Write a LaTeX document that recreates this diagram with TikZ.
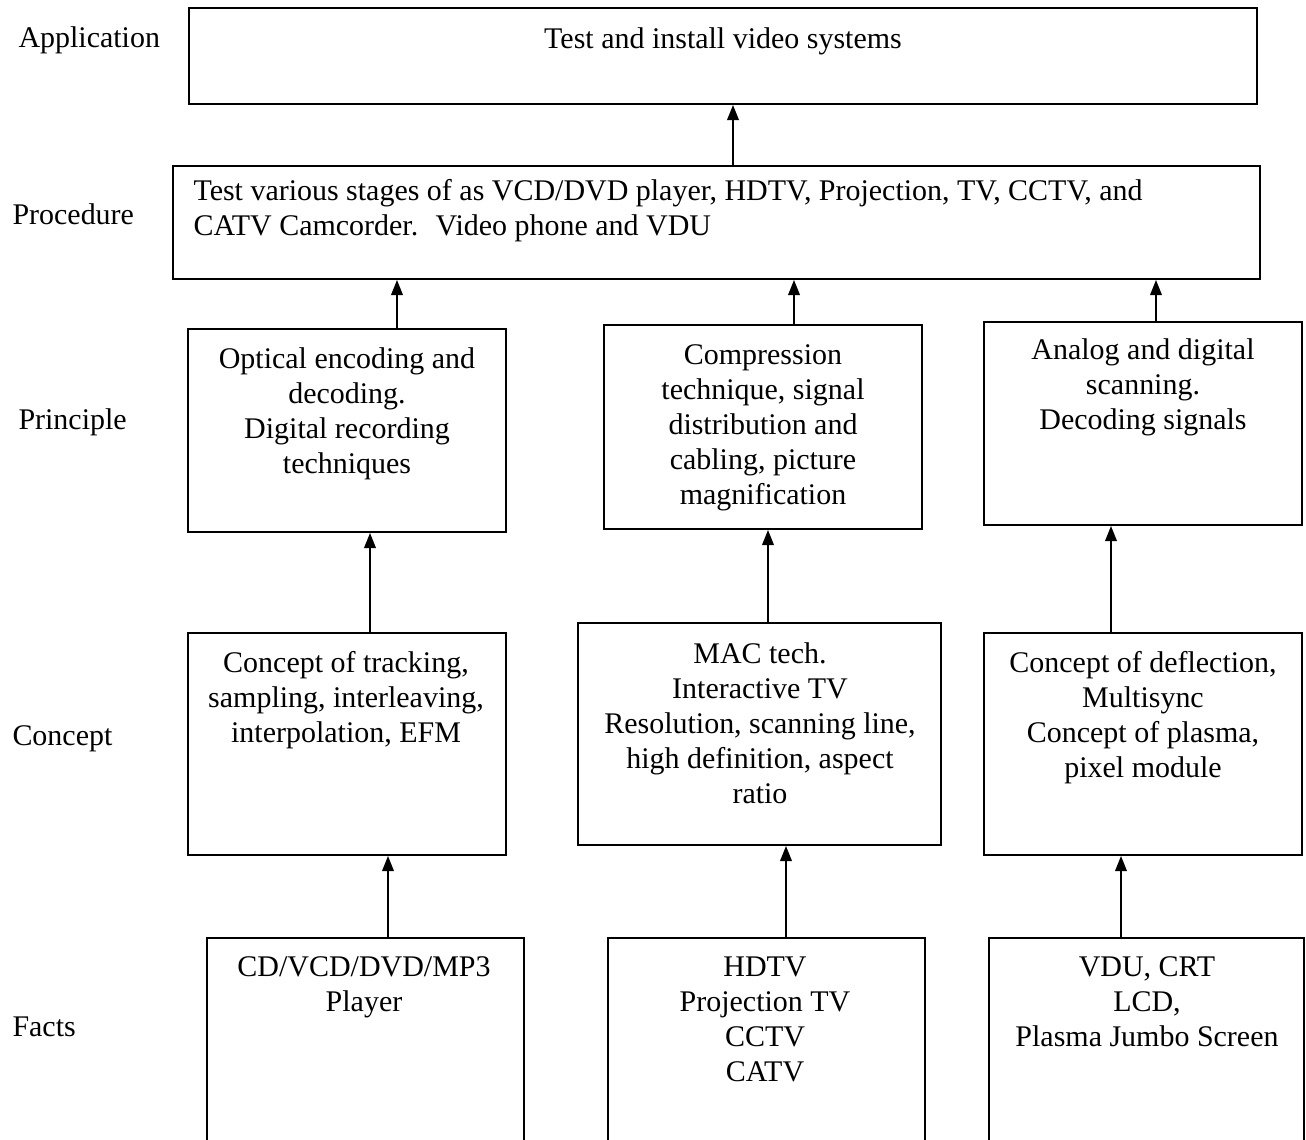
\documentclass[tikz,border=0pt]{standalone}
\usepackage{fontspec}
\setmainfont{Liberation Serif}
\usetikzlibrary{arrows.meta,fit}
\tikzset{
  box/.style={draw,line width=0.75pt,inner sep=0pt,rectangle},
  txt/.style={anchor=north,inner sep=0pt,align=center,font=\fontsize{11.8}{13.8}\selectfont},
  lbl/.style={anchor=base west,inner sep=0pt,font=\fontsize{11.8}{13.8}\selectfont},
  arr/.style={line width=0.75pt,-{Triangle[length=6pt,width=4.6pt]}}
}
\begin{document}
\begin{tikzpicture}[x=0.3937pt,y=-0.3937pt]
\clip (0,0) rectangle (1306,1139);
% boxes
\node[box,fit={(189,8) (1257,104)}] (app) {};
\node[box,fit={(173,166) (1260,279)}] (proc) {};
\node[box,fit={(188,329) (506,532)}] (p1) {};
\node[box,fit={(604,325) (922,529)}] (p2) {};
\node[box,fit={(984,322) (1302,525)}] (p3) {};
\node[box,fit={(188,633) (506,855)}] (c1) {};
\node[box,fit={(578,623) (941,845)}] (c2) {};
\node[box,fit={(984,633) (1302,855)}] (c3) {};
\node[box,fit={(207,938) (524,1170)}] (f1) {};
\node[box,fit={(608,938) (925,1170)}] (f2) {};
\node[box,fit={(989,938) (1304,1170)}] (f3) {};
% texts (north = first baseline - 24.5)
\node[txt] (tapp) at (723,23) {\strut Test and install video systems};
\node[txt,anchor=north west,align=left] (tproc) at (193,175) {\strut Test various stages of as VCD/DVD player, HDTV, Projection, TV, CCTV, and\\CATV Camcorder.~ Video phone and VDU};
\node[txt] (tp1) at (347,343) {\strut Optical encoding and\\decoding.\\Digital recording\\techniques};
\node[txt] (tp2) at (763,339) {\strut Compression\\technique, signal\\distribution and\\cabling, picture\\magnification};
\node[txt] (tp3) at (1143,334) {\strut Analog and digital\\scanning.\\Decoding signals};
\node[txt] (tc1) at (346,647) {\strut Concept of tracking,\\sampling, interleaving,\\interpolation, EFM};
\node[txt] (tc2) at (760,638) {\strut MAC tech.\\Interactive TV\\Resolution, scanning line,\\high definition, aspect\\ratio};
\node[txt] (tc3) at (1143,647) {\strut Concept of deflection,\\Multisync\\Concept of plasma,\\pixel module};
\node[txt] (tf1) at (364,951) {\strut CD/VCD/DVD/MP3\\Player};
\node[txt] (tf2) at (765,951) {\strut HDTV\\Projection TV\\CCTV\\CATV};
\node[txt] (tf3) at (1147,951) {\strut VDU, CRT\\LCD,\\Plasma Jumbo Screen};
% side labels
\node[lbl] (lapp) at (18,47) {Application};
\node[lbl] (lproc) at (12,224) {Procedure};
\node[lbl] (lprin) at (18,429) {Principle};
\node[lbl] (lconc) at (12,745) {Concept};
\node[lbl] (lfact) at (12,1036) {Facts};
% arrow columns
\coordinate (xa) at (733,0);
\coordinate (xp1) at (397,0);
\coordinate (xp2) at (794,0);
\coordinate (xp3) at (1156,0);
\coordinate (xc1) at (370,0);
\coordinate (xc2) at (768,0);
\coordinate (xc3) at (1111,0);
\coordinate (xf1) at (388,0);
\coordinate (xf2) at (786,0);
\coordinate (xf3) at (1121,0);
\draw[arr] (proc.north -| xa) -- (app.south -| xa);
\draw[arr] (p1.north -| xp1) -- (proc.south -| xp1);
\draw[arr] (p2.north -| xp2) -- (proc.south -| xp2);
\draw[arr] (p3.north -| xp3) -- (proc.south -| xp3);
\draw[arr] (c1.north -| xc1) -- (p1.south -| xc1);
\draw[arr] (c2.north -| xc2) -- (p2.south -| xc2);
\draw[arr] (c3.north -| xc3) -- (p3.south -| xc3);
\draw[arr] (f1.north -| xf1) -- (c1.south -| xf1);
\draw[arr] (f2.north -| xf2) -- (c2.south -| xf2);
\draw[arr] (f3.north -| xf3) -- (c3.south -| xf3);
\end{tikzpicture}
\end{document}
